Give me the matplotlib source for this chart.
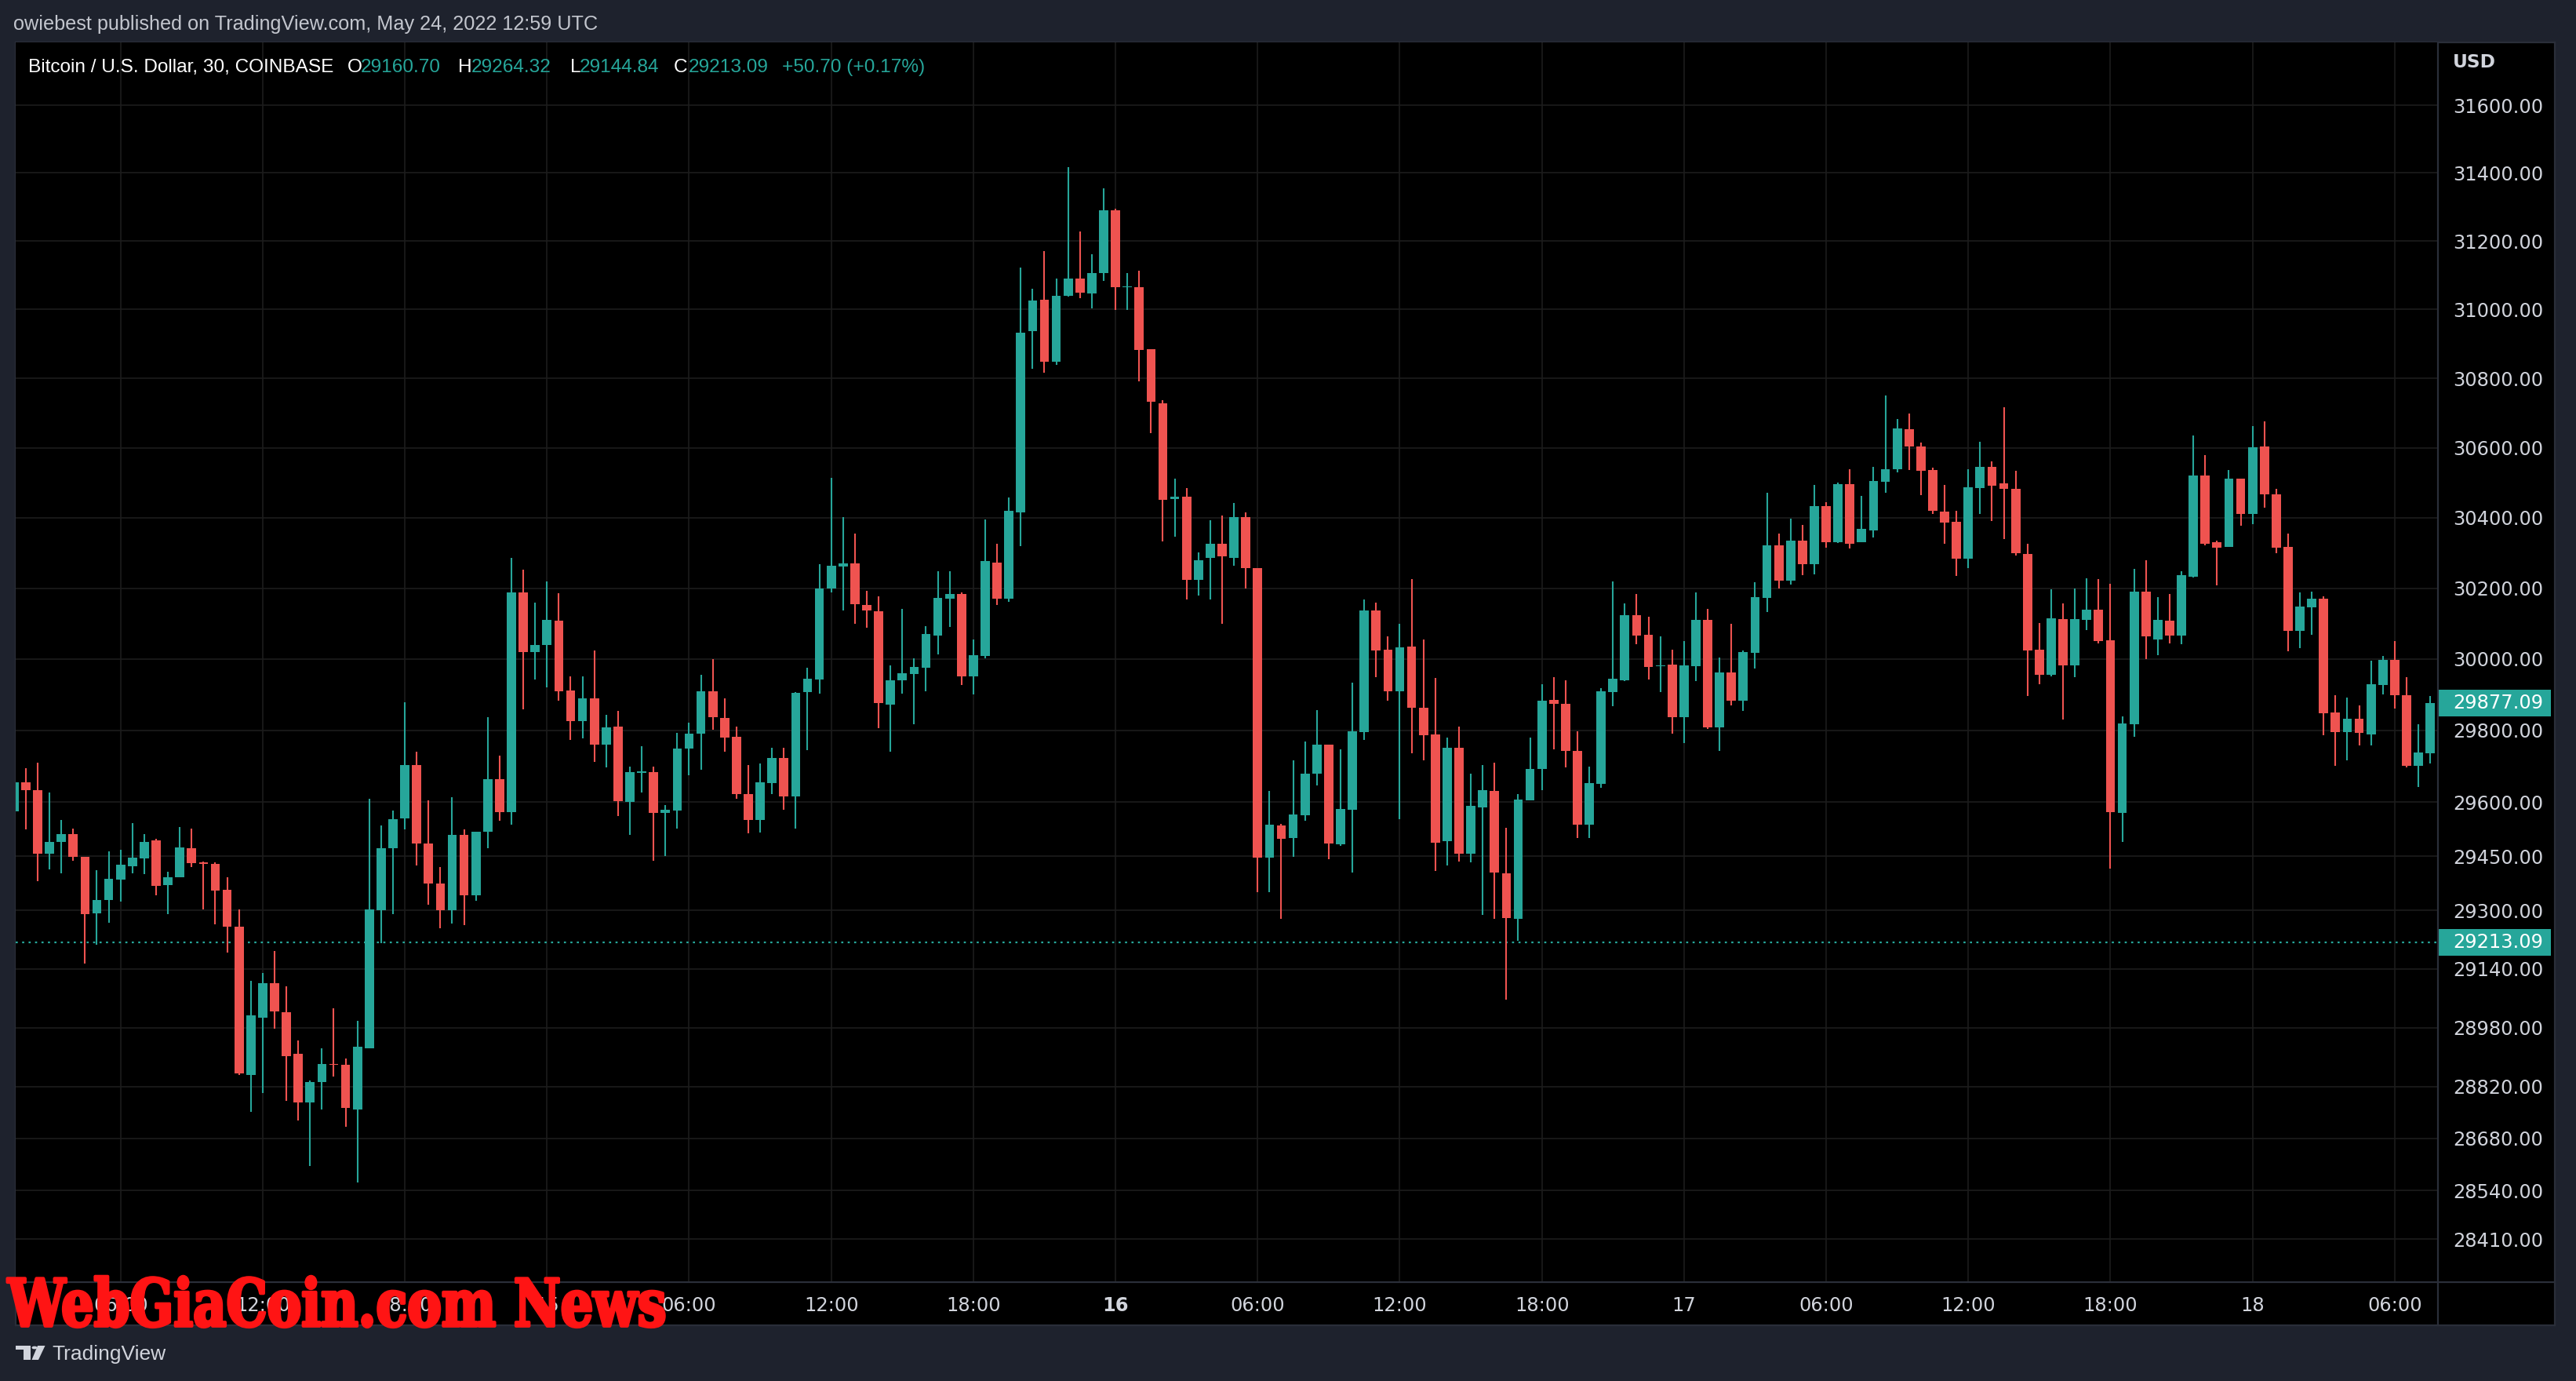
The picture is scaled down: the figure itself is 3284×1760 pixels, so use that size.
import numpy as np
import pandas as pd
import matplotlib
matplotlib.use("Agg")
import matplotlib.pyplot as plt
from matplotlib import transforms
from matplotlib.lines import Line2D
from matplotlib.patches import Rectangle, Polygon, Circle
from matplotlib.patheffects import AbstractPathEffect
from matplotlib.ticker import FixedLocator, NullLocator

# ---- data: BTC/USD, 30 min bars, Coinbase, 14-18 May 2022 ----
first_bar = "2022-05-14 01:30"

opens = [
    29574, 29654, 29634, 29456, 29489, 29512, 29449, 29293, 29330, 29386,
    29421, 29443, 29493, 29371, 29391, 29473, 29432, 29429, 29358, 29256,
    28851, 29007, 29100, 29021, 28908, 28777, 28832, 28882, 28880, 28758,
    28924, 29302, 29471, 29554, 29703, 29486, 29375, 29300, 29509, 29342,
    29517, 29664, 29571, 30188, 30019, 30039, 30108, 29912, 29826, 29890,
    29759, 29810, 29600, 29682, 29684, 29570, 29576, 29748, 29791, 29909,
    29834, 29782, 29623, 29550, 29652, 29723, 29615, 29907, 29943, 30199,
    30262, 30271, 30153, 30135, 29872, 29939, 29958, 29976, 30067, 30170,
    30184, 29952, 30009, 30273, 30170, 30415, 30938, 31028, 30849, 31040,
    31091, 31046, 31106, 31289, 31064, 31065, 30884, 30728, 30454, 30461,
    30223, 30286, 30325, 30286, 30401, 30258, 29446, 29536, 29500, 29563,
    29679, 29759, 29482, 29579, 29795, 30137, 30026, 29910, 30035, 29863,
    29788, 29491, 29751, 29456, 29585, 29630, 29403, 29277, 29605, 29691,
    29885, 29874, 29743, 29538, 29650, 29908, 29941, 30124, 30068, 29979,
    29984, 29837, 29980, 30110, 29807, 29962, 29883, 30018, 30173, 30321,
    30222, 30336, 30269, 30433, 30330, 30496, 30330, 30365, 30502, 30539,
    30653, 30604, 30536, 30417, 30388, 30283, 30484, 30545, 30498, 30483,
    30298, 30026, 29956, 30112, 29982, 30111, 30139, 30053, 29569, 29817,
    30191, 30055, 30109, 30067, 30233, 30521, 30330, 30318, 30513, 30410,
    30604, 30468, 30318, 30080, 30146, 30171, 29850, 29794, 29833, 29789,
    29927, 29998, 29899, 29700, 29736,
]
highs = [
    29665, 29694, 29709, 29626, 29550, 29527, 29449, 29412, 29464, 29467,
    29542, 29512, 29499, 29406, 29530, 29527, 29434, 29433, 29391, 29304,
    29107, 29128, 29190, 29093, 28944, 28837, 28923, 29033, 28896, 28998,
    29609, 29534, 29577, 29879, 29741, 29605, 29419, 29614, 29523, 29518,
    29837, 29730, 30286, 30253, 30158, 30218, 30186, 29952, 29950, 30024,
    29843, 29854, 29699, 29756, 29699, 29591, 29793, 29821, 29956, 30000,
    29889, 29810, 29702, 29708, 29751, 29751, 29908, 29975, 30267, 30514,
    30403, 30354, 30193, 30177, 29982, 30141, 30001, 30092, 30249, 30249,
    30188, 30055, 30395, 30326, 30459, 31123, 31060, 31171, 31090, 31417,
    31227, 31162, 31355, 31294, 31107, 31114, 30884, 30738, 30511, 30485,
    30301, 30393, 30406, 30442, 30415, 30258, 29631, 29540, 29716, 29769,
    29857, 29759, 29747, 29934, 30168, 30159, 30064, 30099, 30226, 30055,
    29946, 29780, 29810, 29678, 29702, 29710, 29528, 29621, 29780, 29929,
    29949, 29940, 29797, 29699, 29918, 30219, 30157, 30184, 30119, 30064,
    30026, 30050, 30188, 30141, 30004, 30099, 30024, 30217, 30471, 30354,
    30397, 30379, 30494, 30444, 30500, 30539, 30462, 30545, 30750, 30683,
    30698, 30615, 30543, 30493, 30421, 30540, 30617, 30561, 30718, 30534,
    30325, 30102, 30196, 30157, 30199, 30228, 30225, 30212, 29839, 30254,
    30280, 30174, 30184, 30249, 30635, 30579, 30334, 30536, 30513, 30663,
    30676, 30482, 30356, 30187, 30191, 30177, 29898, 29892, 29870, 29995,
    30008, 30051, 29949, 29817, 29895,
]
lows = [
    29560, 29524, 29382, 29414, 29403, 29438, 29154, 29206, 29267, 29325,
    29402, 29400, 29341, 29291, 29391, 29419, 29304, 29263, 29184, 28852,
    28751, 28802, 28978, 28782, 28729, 28605, 28758, 28847, 28712, 28562,
    28924, 29210, 29290, 29524, 29425, 29317, 29251, 29264, 29259, 29327,
    29472, 29547, 29537, 29858, 29943, 29920, 29882, 29772, 29778, 29711,
    29696, 29561, 29509, 29626, 29437, 29450, 29526, 29674, 29689, 29802,
    29741, 29609, 29513, 29515, 29622, 29578, 29526, 29744, 29903, 30187,
    30136, 30100, 30089, 29806, 29740, 29903, 29817, 29910, 30012, 30091,
    29926, 29901, 30002, 30152, 30161, 30319, 30829, 30817, 30840, 31038,
    31033, 31003, 31083, 30999, 30999, 30792, 30642, 30333, 30347, 30167,
    30178, 30169, 30100, 30264, 30200, 29350, 29350, 29277, 29449, 29547,
    29646, 29442, 29479, 29404, 29774, 29948, 29883, 29553, 29735, 29716,
    29409, 29424, 29435, 29433, 29288, 29277, 29057, 29217, 29605, 29633,
    29746, 29696, 29500, 29500, 29640, 29868, 29938, 30042, 29943, 29906,
    29791, 29765, 29938, 29804, 29743, 29870, 29855, 29974, 30133, 30198,
    30211, 30236, 30240, 30315, 30328, 30313, 30330, 30345, 30471, 30530,
    30536, 30464, 30412, 30325, 30235, 30258, 30412, 30390, 30340, 30292,
    29897, 29929, 29951, 29830, 29949, 30081, 30044, 29415, 29489, 29781,
    30000, 30011, 30044, 30042, 30231, 30322, 30209, 30318, 30377, 30381,
    30430, 30300, 30022, 30030, 30068, 29785, 29700, 29717, 29758, 29758,
    29901, 29861, 29696, 29642, 29707,
]
closes = [
    29655, 29632, 29456, 29490, 29512, 29447, 29291, 29328, 29388, 29426,
    29445, 29490, 29369, 29391, 29475, 29430, 29429, 29356, 29255, 28855,
    29014, 29102, 29025, 28903, 28777, 28832, 28882, 28879, 28762, 28927,
    29303, 29471, 29553, 29702, 29485, 29374, 29300, 29509, 29342, 29518,
    29664, 29571, 30188, 30019, 30040, 30111, 29910, 29826, 29890, 29759,
    29808, 29602, 29684, 29685, 29570, 29578, 29749, 29791, 29909, 29837,
    29780, 29622, 29550, 29654, 29723, 29615, 29904, 29944, 30200, 30263,
    30271, 30154, 30136, 29876, 29940, 29960, 29977, 30071, 30173, 30184,
    29952, 30011, 30276, 30170, 30420, 30933, 31026, 30849, 31041, 31091,
    31049, 31107, 31289, 31065, 31067, 30882, 30732, 30451, 30460, 30223,
    30279, 30325, 30291, 30401, 30257, 29446, 29538, 29499, 29565, 29678,
    29759, 29484, 29580, 29797, 30137, 30024, 29910, 30032, 29862, 29787,
    29487, 29751, 29456, 29589, 29632, 29404, 29279, 29606, 29693, 29883,
    29873, 29742, 29538, 29652, 29909, 29944, 30124, 30067, 29978, 29982,
    29837, 29982, 30110, 29807, 29962, 29883, 30019, 30175, 30321, 30222,
    30336, 30269, 30433, 30330, 30496, 30326, 30368, 30505, 30540, 30655,
    30604, 30534, 30420, 30386, 30283, 30487, 30545, 30492, 30483, 30300,
    30024, 29956, 30115, 29982, 30112, 30139, 30051, 29573, 29819, 30191,
    30064, 30111, 30067, 30236, 30521, 30326, 30316, 30513, 30410, 30602,
    30467, 30314, 30080, 30149, 30171, 29848, 29794, 29833, 29792, 29929,
    29998, 29899, 29700, 29738, 29877.09,
]

price_ticks = [28410, 28540, 28680, 28820, 28980, 29140, 29300, 29450, 29600,
               29800, 30000, 30200, 30400, 30600, 30800, 31000, 31200, 31400, 31600]
last_visible_close = 29877.09
last_price = 29213.09
header_ohlc = [("O", "29160.70"), ("H", "29264.32"), ("L", "29144.84"), ("C", "29213.09")]
header_change = "+50.70 (+0.17%)"

# ---- look ----
W, H, DPI = 3284, 1760, 200
UP, DOWN = "#26a69a", "#ef5350"
NAVY = "#1e222d"
BORDER = "#2a2e39"
GRID = "#1c1c1c"
AXTXT = "#d1d4dc"
NUMFONT = "DejaVu Sans"
TXTFONT = ["Liberation Sans", "DejaVu Sans"]


def fx(px):
    return px / W


def fy(py):
    return 1 - py / H


class SqueezeX(AbstractPathEffect):
    """Narrow the glyphs horizontally around x0 (pixels) and fatten the strokes."""

    def __init__(self, sx, x0, stroke=1.2):
        super().__init__()
        self.sx = sx
        self.x0 = x0
        self.stroke = stroke

    def draw_path(self, renderer, gc, tpath, affine, rgbFace=None):
        squeeze = transforms.Affine2D().translate(-self.x0, 0).scale(self.sx, 1).translate(self.x0, 0)
        gc0 = renderer.new_gc()
        gc0.copy_properties(gc)
        gc0.set_linewidth(self.stroke)
        if rgbFace is not None:
            gc0.set_foreground(rgbFace)
        renderer.draw_path(gc0, tpath, affine + squeeze, rgbFace)
        gc0.restore()


o = np.array(opens, dtype=float)
h = np.array(highs, dtype=float)
l = np.array(lows, dtype=float)
c = np.array(closes, dtype=float)
times = pd.date_range(first_bar, periods=len(o), freq="30min")
x = np.arange(len(o))

fig = plt.figure(figsize=(W / DPI, H / DPI), dpi=DPI, facecolor=NAVY)

# black chart panel (plot + both price / time scales)
panel = fig.add_axes([fx(20), fy(1689), (3257 - 20) / W, (1689 - 54) / H])
panel.set_facecolor("black")
panel.set_xticks([])
panel.set_yticks([])
for s in panel.spines.values():
    s.set_color(BORDER)
    s.set_linewidth(0.8)

ax = fig.add_axes([fx(20), fy(1634), (3108 - 20) / W, (1634 - 54) / H])
ax.set_facecolor("black")
for s in ax.spines.values():
    s.set_visible(False)

# candles
up = c >= o
colors = np.where(up, UP, DOWN)
ax.vlines(x, l, h, colors=colors, linewidth=0.75, zorder=3)
body_lo = np.minimum(o, c)
body_h = np.maximum(np.abs(c - o), 2.5)
ax.bar(x, body_h, bottom=body_lo, width=0.78, color=colors, linewidth=0, zorder=4)

ax.set_yscale("log")
ax.set_ylim(28296, 31787)
ax.set_xlim(0.146, 204.65)

# price scale on the right
ax.yaxis.tick_right()
ax.yaxis.set_major_locator(FixedLocator(price_ticks))
ax.yaxis.set_minor_locator(NullLocator())
ax.set_yticklabels([f"{p:.2f}" for p in price_ticks])
ax.tick_params(axis="y", length=0, pad=6.8, labelsize=8.7, labelcolor=AXTXT)

# time scale
tick_idx = [i for i, t in enumerate(times) if t.minute == 0 and t.hour % 6 == 0]
tick_lab = [str(times[i].day) if times[i].hour == 0 else times[i].strftime("%H:%M")
            for i in tick_idx]
ax.set_xticks(tick_idx)
ax.set_xticklabels(tick_lab)
ax.tick_params(axis="x", length=0, pad=6.5, labelsize=8.7, labelcolor=AXTXT)
for lab in ax.get_xticklabels():
    lab.set_fontfamily(NUMFONT)
    if lab.get_text() == "16":
        lab.set_fontweight("bold")
for lab in ax.get_yticklabels():
    lab.set_fontfamily(NUMFONT)

ax.grid(True, color=GRID, linewidth=0.6)
ax.set_axisbelow(True)

# last price line + price tags
ax.axhline(last_price, color=UP, linewidth=0.8, linestyle=(0, (1.2, 2.5)), zorder=2)
trans = transforms.blended_transform_factory(ax.transAxes, ax.transData)
lo, hi = ax.get_ylim()
k = np.log(hi / lo) * 17 / 1580
for p in (last_visible_close, last_price):
    ax.add_patch(Rectangle((1.0, p * np.exp(-k)), 144 / 3088, p * np.exp(k) - p * np.exp(-k),
                           transform=trans, facecolor=UP, edgecolor="none",
                           clip_on=False, zorder=6))
    ax.text(1 + 19 / 3088, p, f"{p:.2f}", transform=trans, color="white",
            ha="left", va="center", fontsize=8.7, family=NUMFONT,
            clip_on=False, zorder=7)

# separators between plot and scales
fig.add_artist(Line2D([fx(20), fx(3257)], [fy(1634), fy(1634)], color=BORDER, linewidth=0.8))
fig.add_artist(Line2D([fx(3108), fx(3108)], [fy(54), fy(1689)], color=BORDER, linewidth=0.8))

fig.text(fx(3127), fy(79), "USD", color=AXTXT, fontsize=8.4, fontweight="bold",
         family=NUMFONT, va="center", ha="left")

# header
fig.text(fx(17), fy(31), "owiebest published on TradingView.com, May 24, 2022 12:59 UTC",
         color="#c3c6ce", fontsize=9.1, family=TXTFONT, va="center", ha="left")
fig.text(fx(36), fy(86), "Bitcoin / U.S. Dollar, 30, COINBASE", color="white",
         fontsize=8.8, family=TXTFONT, va="center", ha="left")
letter_x = [443, 584, 727, 859]
value_x = [460, 601, 739, 878]
for (letter, val), lx, vx in zip(header_ohlc, letter_x, value_x):
    fig.text(fx(lx), fy(86), letter, color="white", fontsize=8.8, family=TXTFONT,
             va="center", ha="left")
    fig.text(fx(vx), fy(86), val, color=UP, fontsize=8.8, family=TXTFONT,
             va="center", ha="left")
fig.text(fx(997), fy(86), header_change, color=UP, fontsize=8.8, family=TXTFONT,
         va="center", ha="left")

# footer logo
fig.add_artist(Rectangle((fx(20), fy(1720)), 19 / W, 5 / H, transform=fig.transFigure,
                         facecolor="#d1d4dc", edgecolor="none"))
fig.add_artist(Rectangle((fx(29.5), fy(1733)), 9 / W, 18 / H, transform=fig.transFigure,
                         facecolor="#d1d4dc", edgecolor="none"))
fig.add_artist(Polygon([(fx(48), fy(1715)), (fx(57.5), fy(1715)), (fx(49), fy(1733)),
                        (fx(40.5), fy(1733))], closed=True, transform=fig.transFigure,
                       facecolor="#d1d4dc", edgecolor="none"))
fig.text(fx(66), fy(1726), "TradingView", color="#d1d4dc", fontsize=9.5,
         family=TXTFONT, va="center", ha="left")
fig.add_artist(Circle((fx(44), fy(1717.5)), 3.5 / W, transform=fig.transFigure,
                      facecolor="#d1d4dc", edgecolor="none"))

# watermark over the time scale: tall heavy slab letters, squeezed to the reference width
wm = fig.text(fx(10), fy(1690), "WebGiaCoin.com News", color="#ff1414",
              fontsize=30, fontweight="bold", family=["DejaVu Serif", "Liberation Serif"],
              va="baseline", ha="left", zorder=10)
fig.canvas.draw()
wpx = wm.get_window_extent().width
wm.set_path_effects([SqueezeX(840 / wpx, 10, stroke=1.4)])

fig.savefig("out.png", dpi=DPI, facecolor=NAVY)
